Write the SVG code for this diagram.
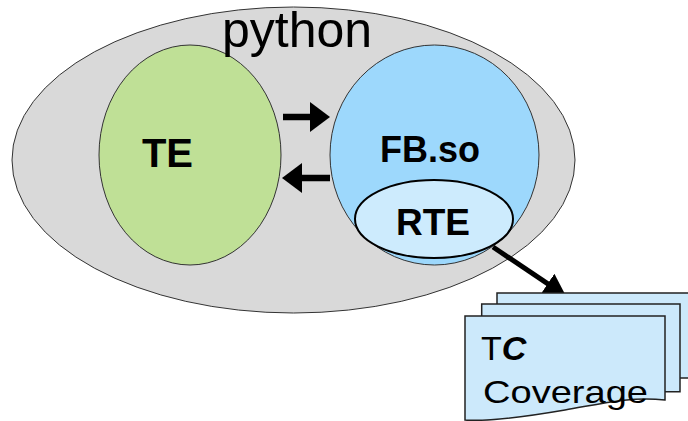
<svg xmlns="http://www.w3.org/2000/svg" width="688" height="421" viewBox="0 0 688 421">
  <style>
    .lbl { font-family: "Liberation Sans", Arial, sans-serif; fill: #000; }
    .b { font-weight: bold; }
    .thin { stroke: #333; stroke-width: 1; }
    .page { fill: #cce9fb; stroke: #222; stroke-width: 1.5; }
    .arrow { stroke: #000; fill: none; }
  </style>
  <defs>
    <marker id="headH" markerUnits="userSpaceOnUse" viewBox="0 0 20 30" markerWidth="20" markerHeight="30" refX="5" refY="15" orient="auto">
      <path d="M0,0 L20,15 L0,30 Z" fill="#000"/>
    </marker>
    <marker id="headD" markerUnits="userSpaceOnUse" viewBox="0 0 22 24" markerWidth="22" markerHeight="24" refX="7" refY="12" orient="auto">
      <path d="M0,0 L22,12 L0,24 Z" fill="#000"/>
    </marker>
  </defs>

  <g id="python">
    <ellipse cx="293.5" cy="160" rx="281.5" ry="153" fill="#d9d9d9" class="thin"/>
  </g>
  <g id="TE">
    <ellipse cx="190" cy="155" rx="91" ry="110" fill="#bfe096" class="thin"/>
    <text class="lbl b" x="167.5" y="167" font-size="40" text-anchor="middle">TE</text>
  </g>
  <g id="FBso">
    <ellipse cx="434.5" cy="155" rx="104.5" ry="110" fill="#9dd8fc" class="thin"/>
    <text class="lbl b" x="430" y="162" font-size="36" text-anchor="middle">FB.so</text>
  </g>
  <g id="RTE">
    <ellipse cx="434" cy="219" rx="79" ry="39" fill="#cdebfd" stroke="#000" stroke-width="2"/>
    <text class="lbl b" x="433" y="235" font-size="37" text-anchor="middle">RTE</text>
  </g>
  <g id="python-label">
    <text class="lbl" x="297" y="47" font-size="50" text-anchor="middle" fill="#111">python</text>
  </g>

  <g id="connectors">
    <line class="arrow" x1="283" y1="117" x2="315" y2="117" stroke-width="6.5" marker-end="url(#headH)"/>
    <line class="arrow" x1="330" y1="178" x2="297" y2="178" stroke-width="6.5" marker-end="url(#headH)"/>
    <line class="arrow" x1="493" y1="247" x2="553.5" y2="287.6" stroke-width="5" marker-end="url(#headD)"/>
  </g>

  <g id="TCCoverage">
    <path class="page" d="M497,293 L692,293 L692,378 L497,378 Z"/>
    <path class="page" d="M481.7,304 L680,304 L680,391.7 L481.7,391.7 Z"/>
    <path class="page" d="M465,316 L665,316 L665,400 C630,396 600,404 565,410 S490,422 465,420 Z"/>
    <text class="lbl" x="481" y="360" font-size="34">T<tspan font-weight="bold" font-style="italic">C</tspan></text>
    <text class="lbl" x="483" y="403" font-size="32" textLength="165" lengthAdjust="spacingAndGlyphs">Coverage</text>
  </g>
</svg>
